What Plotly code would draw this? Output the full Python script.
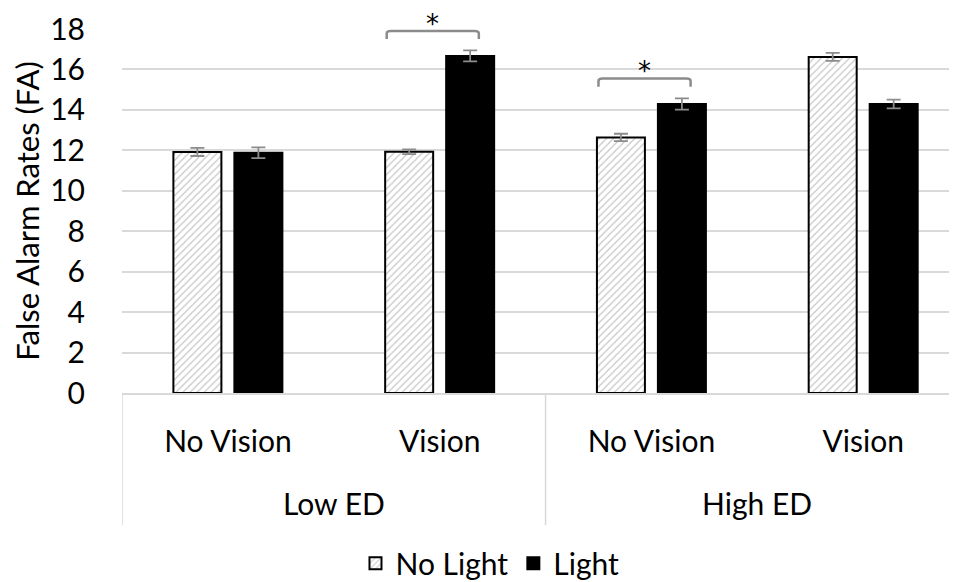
import plotly.graph_objects as go

groups = ["Low ED", "Low ED", "High ED", "High ED"]
conditions = ["No Vision", "Vision", "No Vision", "Vision"]
group_labels = ["Low ED", "High ED"]
no_light = [11.92, 11.93, 12.64, 16.62]
no_light_err = [0.2, 0.12, 0.18, 0.2]
light = [11.88, 16.67, 14.29, 14.29]
light_err = [0.27, 0.27, 0.28, 0.22]
sig_index = [1, 2]
sig_bracket_top = [17.9, 15.55]

FONT = "Lato"
FS = 30
GRID = "#d9d9d9"
ERR = "#8c8c8c"
Y_MAX = 18

xs = list(range(len(conditions)))

fig = go.Figure()
fig.add_trace(go.Bar(
    x=xs, y=no_light, name="No Light",
    marker=dict(color="white", line=dict(color="black", width=2),
                pattern=dict(shape="/", fgcolor="#8f8f8f", bgcolor="white", size=5, solidity=0.25)),
    error_y=dict(type="data", array=no_light_err, color=ERR, thickness=1.8, width=7),
))
fig.add_trace(go.Bar(
    x=xs, y=light, name="Light",
    marker=dict(color="black", line=dict(color="black", width=2)),
    error_y=dict(type="data", array=light_err, color=ERR, thickness=1.8, width=7),
))

shapes = []
annotations = []
# group dividers
for b in [-0.5, 1.5, 3.5]:
    shapes.append(dict(type="line", xref="x", yref="paper", x0=b, x1=b, y0=0, y1=-0.363,
                       line=dict(color=GRID, width=1.5)))
# group labels
for gi, g in enumerate(group_labels):
    annotations.append(dict(x=0.5 + 2 * gi, y=-0.3025, xref="x", yref="paper", text=g,
                            showarrow=False, yanchor="middle", xanchor="center",
                            font=dict(family=FONT, size=FS, color="black")))
# significance brackets
for idx, top in zip(sig_index, sig_bracket_top):
    x0, x1 = idx - 0.25, idx + 0.185
    d = 0.4
    r = 0.02
    path = (f"M {x0},{top - d} L {x0},{top - 0.12} Q {x0},{top} {x0 + r},{top} "
            f"L {x1 - r},{top} Q {x1},{top} {x1},{top - 0.12} L {x1},{top - d}")
    shapes.append(dict(type="path", xref="x", yref="y", path=path,
                       line=dict(color=ERR, width=2.5)))
    annotations.append(dict(x=(x0 + x1) / 2, y=(top + 0.35) / Y_MAX, xref="x", yref="paper",
                            text="*", showarrow=False, yanchor="middle", xanchor="center",
                            font=dict(family="DejaVu Sans", size=26, color="black")))

fig.update_layout(
    width=949, height=574,
    margin=dict(l=114, r=0, t=21, b=189, autoexpand=False),
    paper_bgcolor="white", plot_bgcolor="white",
    barmode="group", bargap=0.424, bargroupgap=0.213,
    font=dict(family=FONT, size=FS, color="black"),
    showlegend=True,
    legend=dict(orientation="h", x=0.4407, y=-0.468, xanchor="center", yanchor="middle",
                font=dict(family=FONT, size=FS, color="black"), itemwidth=30,
                bgcolor="rgba(0,0,0,0)"),
    xaxis=dict(range=[-0.5, 3.443], tickmode="array", tickvals=xs, ticktext=conditions,
               showgrid=False, zeroline=False, showline=True, linecolor=GRID, linewidth=1.5,
               ticks="outside", ticklen=21, tickcolor="rgba(0,0,0,0)", automargin=False,
               tickfont=dict(family=FONT, size=FS, color="black")),
    yaxis=dict(range=[0, Y_MAX], dtick=2, showgrid=True, gridcolor=GRID, gridwidth=1.5,
               zeroline=False, showline=False, automargin=False,
               ticks="outside", ticklen=30, tickcolor="rgba(0,0,0,0)",
               tickfont=dict(family=FONT, size=FS, color="black"),
               title=dict(text="False Alarm Rates (FA)", standoff=6,
                          font=dict(family=FONT, size=31, color="black"))),
    shapes=shapes, annotations=annotations,
)
fig.update_traces(cliponaxis=False)
fig.write_html("out.html")
